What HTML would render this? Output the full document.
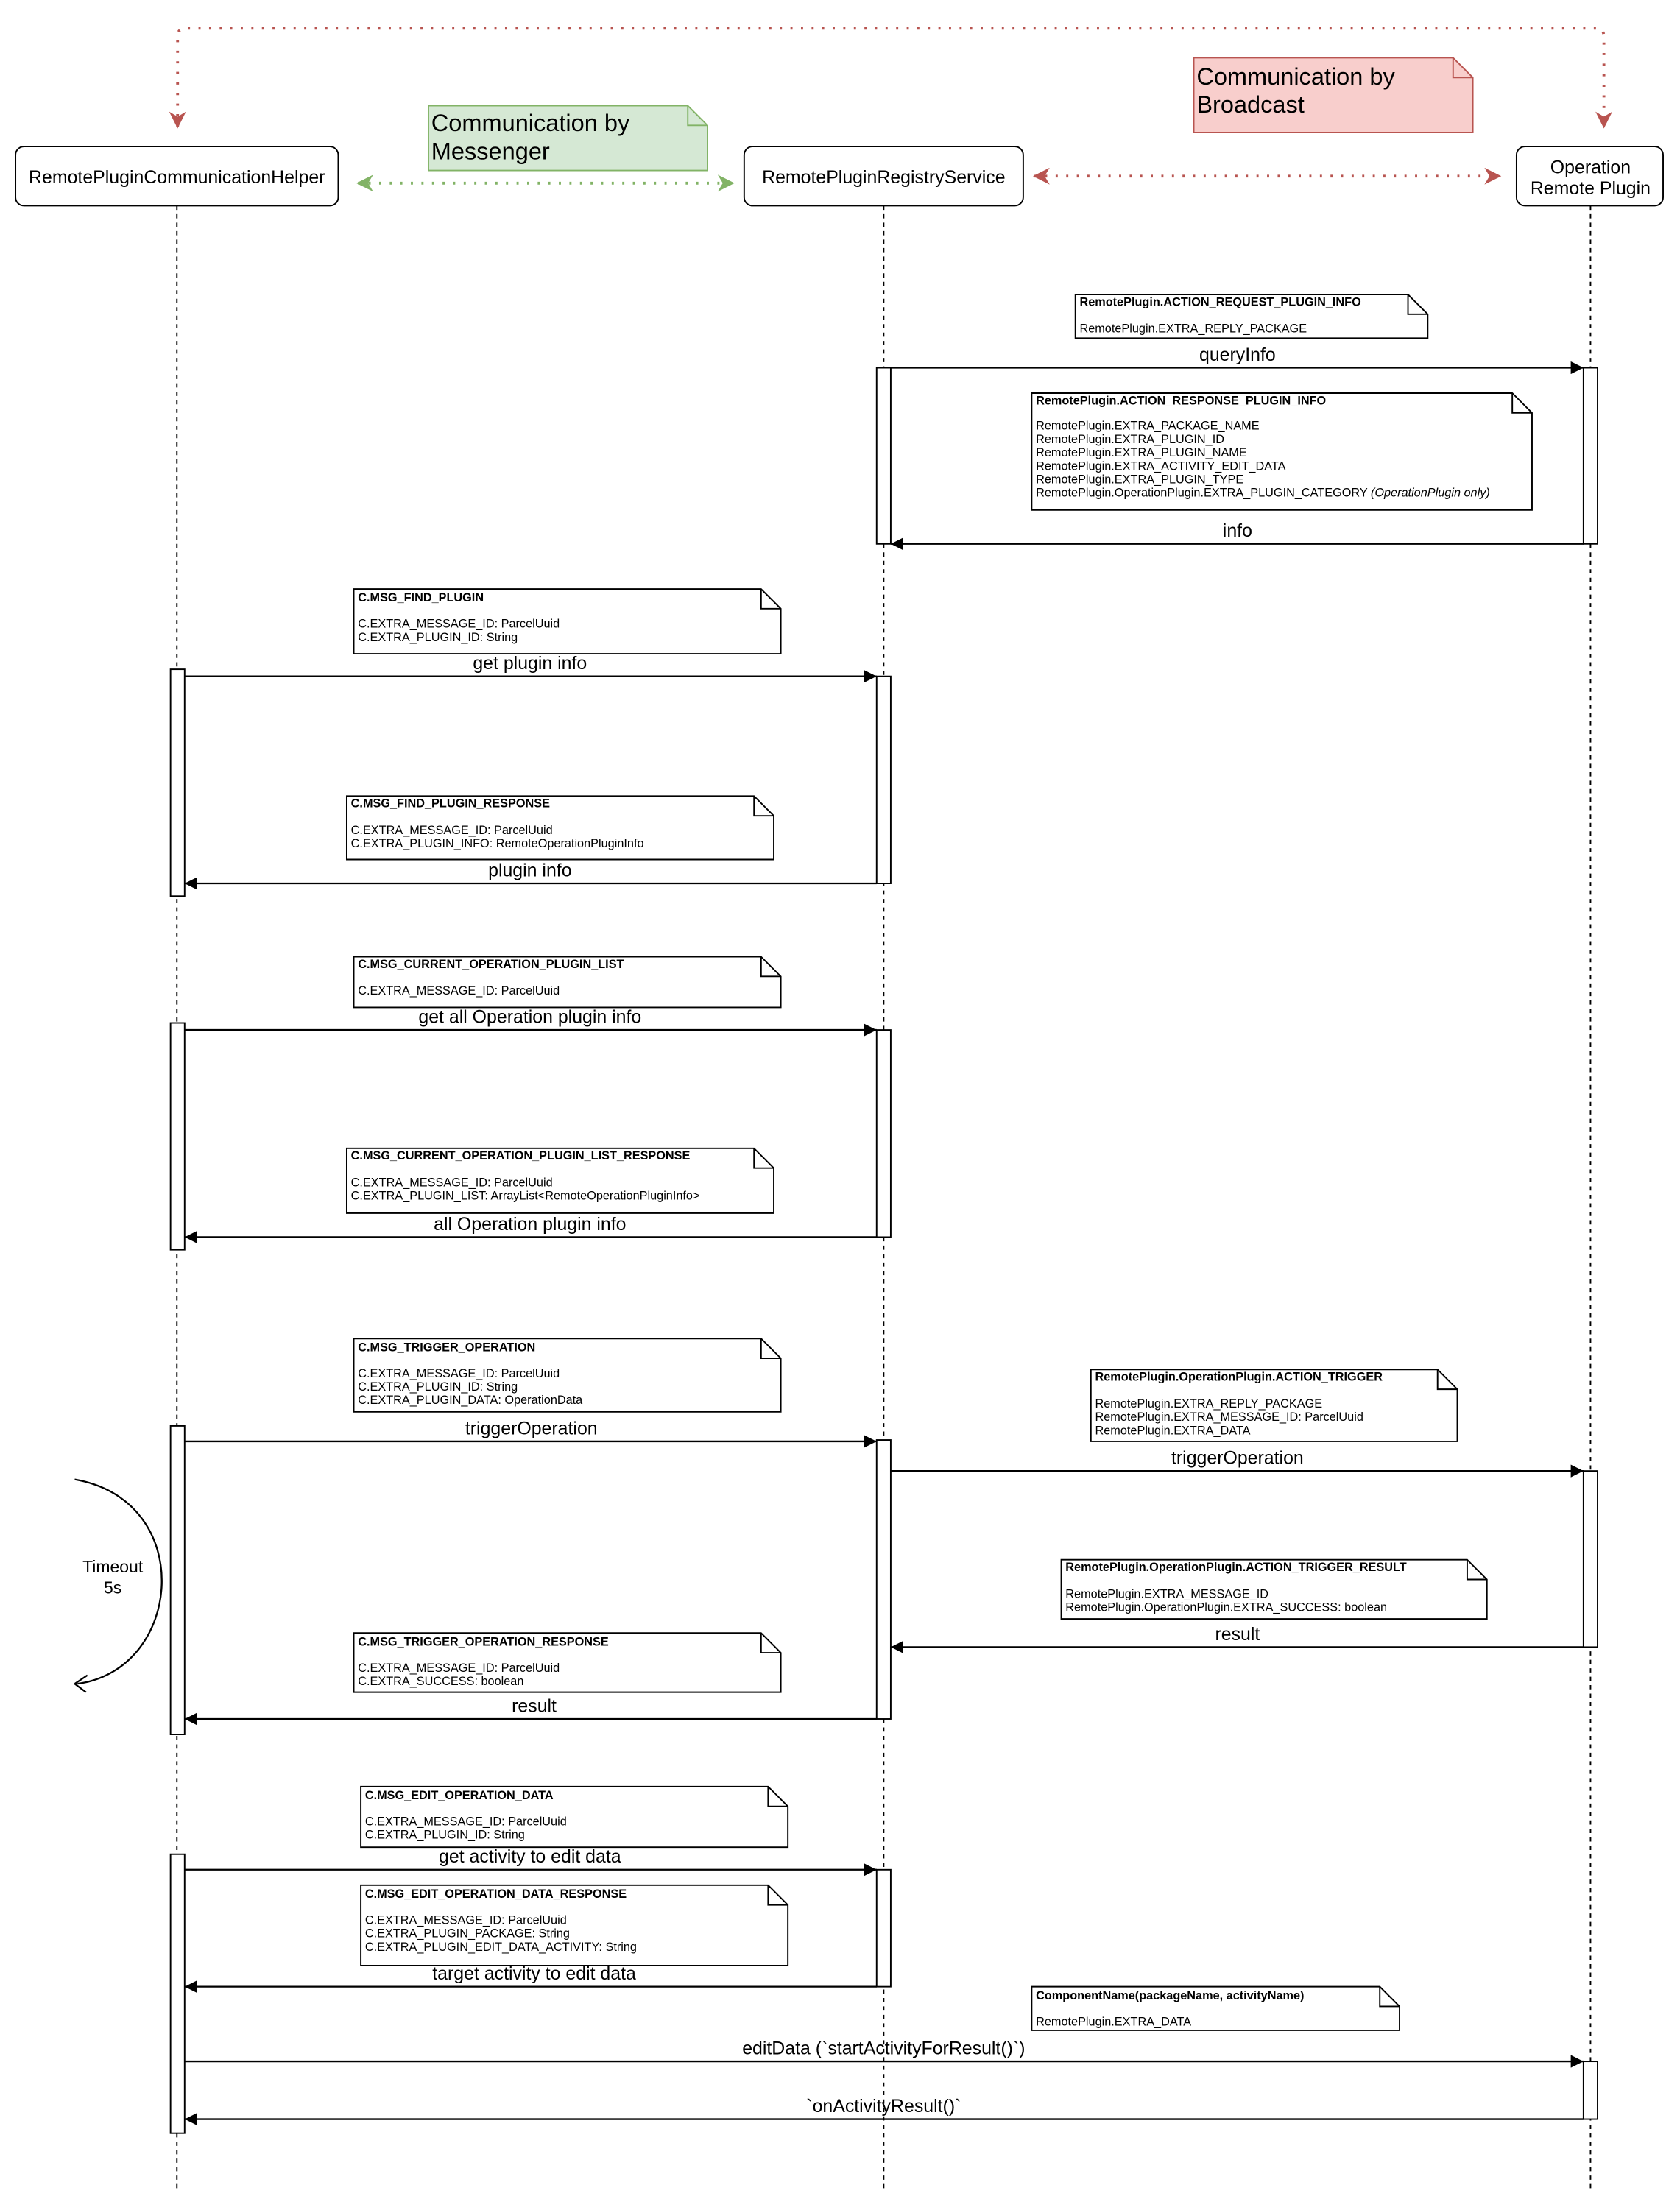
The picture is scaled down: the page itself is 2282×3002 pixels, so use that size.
<!DOCTYPE html>
<html><head><meta charset="utf-8"><style>html,body{margin:0;padding:0;background:#fff}svg{display:block}</style></head><body>
<svg xmlns="http://www.w3.org/2000/svg" width="2282" height="3002" viewBox="0 0 1192 1568.5" preserveAspectRatio="none" font-family="'Liberation Sans', 'DejaVu Sans', sans-serif">
<defs>
<marker id="ab" viewBox="0 0 10 10" refX="10" refY="5" markerWidth="9" markerHeight="9" markerUnits="userSpaceOnUse" orient="auto"><path d="M0,0 L10,5 L0,10 z" fill="#000"/></marker>
<marker id="ag" viewBox="0 0 10 10" refX="9" refY="5" markerWidth="12" markerHeight="12" markerUnits="userSpaceOnUse" orient="auto-start-reverse"><path d="M0,0 L10,5 L0,10 L3,5 z" fill="#82b366"/></marker>
<marker id="ar" viewBox="0 0 10 10" refX="9" refY="5" markerWidth="12" markerHeight="12" markerUnits="userSpaceOnUse" orient="auto-start-reverse"><path d="M0,0 L10,5 L0,10 L3,5 z" fill="#b85450"/></marker>
</defs>
<rect width="1192" height="1568.5" fill="#fff"/>

<path d="M126,90 L126,26 Q126,20 132,20 L1132,20 Q1138,20 1138,26 L1138,90" fill="none" stroke="#b85450" stroke-width="2" stroke-dasharray="1.5 6" marker-start="url(#ar)" marker-end="url(#ar)"/>

<g stroke="#000" stroke-width="1" stroke-dasharray="3 3">
<line x1="125.5" y1="146" x2="125.5" y2="1556"/>
<line x1="627" y1="146" x2="627" y2="1556"/>
<line x1="1128.5" y1="146" x2="1128.5" y2="1556"/>
</g>

<g fill="#fff" stroke="#000" stroke-width="1">
<rect x="11" y="104" width="229" height="42" rx="6"/>
<rect x="528" y="104" width="198" height="42" rx="6"/>
<rect x="1076" y="104" width="104" height="42" rx="6"/>
</g>
<g font-size="13" text-anchor="middle" fill="#000">
<text x="125.5" y="130">RemotePluginCommunicationHelper</text>
<text x="627" y="130">RemotePluginRegistryService</text>
<text x="1128.5" y="123">Operation</text>
<text x="1128.5" y="138">Remote Plugin</text>
</g>

<path d="M304,75 L488,75 L502,89 L502,121 L304,121 Z" fill="#d5e8d4" stroke="#82b366"/>
<path d="M488,75 L488,89 L502,89" fill="none" stroke="#82b366"/>
<text x="306" y="93" font-size="17">Communication by</text>
<text x="306" y="113" font-size="17">Messenger</text>
<line x1="254" y1="130" x2="520" y2="130" stroke="#82b366" stroke-width="2" stroke-dasharray="1.5 6" marker-start="url(#ag)" marker-end="url(#ag)"/>

<path d="M847,41 L1031,41 L1045,55 L1045,94 L847,94 Z" fill="#f8cecc" stroke="#b85450"/>
<path d="M1031,41 L1031,55 L1045,55" fill="none" stroke="#b85450"/>
<text x="849" y="60" font-size="17">Communication by</text>
<text x="849" y="80" font-size="17">Broadcast</text>
<line x1="734" y1="125" x2="1064" y2="125" stroke="#b85450" stroke-width="2" stroke-dasharray="1.5 6" marker-start="url(#ar)" marker-end="url(#ar)"/>

<g fill="#fff" stroke="#000" stroke-width="1">
<rect x="622" y="261" width="10" height="125"/>
<rect x="1123.5" y="261" width="10" height="125"/>
<rect x="121" y="475" width="10" height="161"/>
<rect x="622" y="480" width="10" height="147"/>
<rect x="121" y="726" width="10" height="161"/>
<rect x="622" y="731" width="10" height="147"/>
<rect x="121" y="1012" width="10" height="219"/>
<rect x="622" y="1022" width="10" height="198"/>
<rect x="1123.5" y="1044" width="10" height="125"/>
<rect x="121" y="1316" width="10" height="198"/>
<rect x="622" y="1327" width="10" height="83"/>
<rect x="1123.5" y="1463" width="10" height="41"/>
</g>

<g fill="#fff" stroke="#000" stroke-width="1">
<path d="M763,209 L999,209 L1013,223 L1013,240 L763,240 Z"/><path d="M999,209 L999,223 L1013,223" fill="none"/>
<path d="M732,279 L1073,279 L1087,293 L1087,362 L732,362 Z"/><path d="M1073,279 L1073,293 L1087,293" fill="none"/>
<path d="M251,418 L540,418 L554,432 L554,464 L251,464 Z"/><path d="M540,418 L540,432 L554,432" fill="none"/>
<path d="M246,565 L535,565 L549,579 L549,610 L246,610 Z"/><path d="M535,565 L535,579 L549,579" fill="none"/>
<path d="M251,679 L540,679 L554,693 L554,715 L251,715 Z"/><path d="M540,679 L540,693 L554,693" fill="none"/>
<path d="M246,815 L535,815 L549,829 L549,861 L246,861 Z"/><path d="M535,815 L535,829 L549,829" fill="none"/>
<path d="M251,950 L540,950 L554,964 L554,1002 L251,1002 Z"/><path d="M540,950 L540,964 L554,964" fill="none"/>
<path d="M774,972 L1020,972 L1034,986 L1034,1023 L774,1023 Z"/><path d="M1020,972 L1020,986 L1034,986" fill="none"/>
<path d="M753,1107 L1041,1107 L1055,1121 L1055,1149 L753,1149 Z"/><path d="M1041,1107 L1041,1121 L1055,1121" fill="none"/>
<path d="M251,1159 L540,1159 L554,1173 L554,1201 L251,1201 Z"/><path d="M540,1159 L540,1173 L554,1173" fill="none"/>
<path d="M256,1268 L545,1268 L559,1282 L559,1311 L256,1311 Z"/><path d="M545,1268 L545,1282 L559,1282" fill="none"/>
<path d="M256,1338 L545,1338 L559,1352 L559,1395 L256,1395 Z"/><path d="M545,1338 L545,1352 L559,1352" fill="none"/>
<path d="M732,1410 L979,1410 L993,1424 L993,1441 L732,1441 Z"/><path d="M979,1410 L979,1424 L993,1424" fill="none"/>
</g>
<g font-size="8.5" fill="#000">
<text x="766" y="217" font-weight="bold">RemotePlugin.ACTION_REQUEST_PLUGIN_INFO</text>
<text x="766" y="236">RemotePlugin.EXTRA_REPLY_PACKAGE</text>
<text x="735" y="287" font-weight="bold">RemotePlugin.ACTION_RESPONSE_PLUGIN_INFO</text>
<text x="735" y="305">RemotePlugin.EXTRA_PACKAGE_NAME</text>
<text x="735" y="314.5">RemotePlugin.EXTRA_PLUGIN_ID</text>
<text x="735" y="324">RemotePlugin.EXTRA_PLUGIN_NAME</text>
<text x="735" y="333.5">RemotePlugin.EXTRA_ACTIVITY_EDIT_DATA</text>
<text x="735" y="343">RemotePlugin.EXTRA_PLUGIN_TYPE</text>
<text x="735" y="352.5">RemotePlugin.OperationPlugin.EXTRA_PLUGIN_CATEGORY <tspan font-style="italic">(OperationPlugin only)</tspan></text>

<text x="254" y="427" font-weight="bold">C.MSG_FIND_PLUGIN</text>
<text x="254" y="445.5">C.EXTRA_MESSAGE_ID: ParcelUuid</text>
<text x="254" y="455">C.EXTRA_PLUGIN_ID: String</text>

<text x="249" y="573" font-weight="bold">C.MSG_FIND_PLUGIN_RESPONSE</text>
<text x="249" y="592">C.EXTRA_MESSAGE_ID: ParcelUuid</text>
<text x="249" y="601.5">C.EXTRA_PLUGIN_INFO: RemoteOperationPluginInfo</text>

<text x="254" y="687" font-weight="bold">C.MSG_CURRENT_OPERATION_PLUGIN_LIST</text>
<text x="254" y="706">C.EXTRA_MESSAGE_ID: ParcelUuid</text>

<text x="249" y="823" font-weight="bold">C.MSG_CURRENT_OPERATION_PLUGIN_LIST_RESPONSE</text>
<text x="249" y="842">C.EXTRA_MESSAGE_ID: ParcelUuid</text>
<text x="249" y="851.5">C.EXTRA_PLUGIN_LIST: ArrayList&lt;RemoteOperationPluginInfo&gt;</text>

<text x="254" y="959" font-weight="bold">C.MSG_TRIGGER_OPERATION</text>
<text x="254" y="977.5">C.EXTRA_MESSAGE_ID: ParcelUuid</text>
<text x="254" y="987">C.EXTRA_PLUGIN_ID: String</text>
<text x="254" y="996.5">C.EXTRA_PLUGIN_DATA: OperationData</text>

<text x="777" y="980" font-weight="bold">RemotePlugin.OperationPlugin.ACTION_TRIGGER</text>
<text x="777" y="999">RemotePlugin.EXTRA_REPLY_PACKAGE</text>
<text x="777" y="1008.5">RemotePlugin.EXTRA_MESSAGE_ID: ParcelUuid</text>
<text x="777" y="1018">RemotePlugin.EXTRA_DATA</text>

<text x="756" y="1115" font-weight="bold">RemotePlugin.OperationPlugin.ACTION_TRIGGER_RESULT</text>
<text x="756" y="1134">RemotePlugin.EXTRA_MESSAGE_ID</text>
<text x="756" y="1143.5">RemotePlugin.OperationPlugin.EXTRA_SUCCESS: boolean</text>

<text x="254" y="1168" font-weight="bold">C.MSG_TRIGGER_OPERATION_RESPONSE</text>
<text x="254" y="1186.5">C.EXTRA_MESSAGE_ID: ParcelUuid</text>
<text x="254" y="1196">C.EXTRA_SUCCESS: boolean</text>

<text x="259" y="1277" font-weight="bold">C.MSG_EDIT_OPERATION_DATA</text>
<text x="259" y="1295.5">C.EXTRA_MESSAGE_ID: ParcelUuid</text>
<text x="259" y="1305">C.EXTRA_PLUGIN_ID: String</text>

<text x="259" y="1347" font-weight="bold">C.MSG_EDIT_OPERATION_DATA_RESPONSE</text>
<text x="259" y="1365.5">C.EXTRA_MESSAGE_ID: ParcelUuid</text>
<text x="259" y="1375">C.EXTRA_PLUGIN_PACKAGE: String</text>
<text x="259" y="1384.5">C.EXTRA_PLUGIN_EDIT_DATA_ACTIVITY: String</text>

<text x="735" y="1419" font-weight="bold">ComponentName(packageName, activityName)</text>
<text x="735" y="1437.5">RemotePlugin.EXTRA_DATA</text>
</g>

<g stroke="#000" stroke-width="1.2" fill="none" marker-end="url(#ab)">
<line x1="632" y1="261" x2="1123.5" y2="261"/>
<line x1="1123.5" y1="386" x2="632" y2="386"/>
<line x1="131" y1="480" x2="622" y2="480"/>
<line x1="622" y1="627" x2="131" y2="627"/>
<line x1="131" y1="731" x2="622" y2="731"/>
<line x1="622" y1="878" x2="131" y2="878"/>
<line x1="131" y1="1023" x2="622" y2="1023"/>
<line x1="632" y1="1044" x2="1123.5" y2="1044"/>
<line x1="1123.5" y1="1169" x2="632" y2="1169"/>
<line x1="622" y1="1220" x2="131" y2="1220"/>
<line x1="131" y1="1327" x2="622" y2="1327"/>
<line x1="622" y1="1410" x2="131" y2="1410"/>
<line x1="131" y1="1463" x2="1123.5" y2="1463"/>
<line x1="1123.5" y1="1504" x2="131" y2="1504"/>
</g>
<g font-size="13" text-anchor="middle" fill="#000">
<text x="878" y="256">queryInfo</text>
<text x="878" y="381">info</text>
<text x="376" y="475">get plugin info</text>
<text x="376" y="622">plugin info</text>
<text x="376" y="726">get all Operation plugin info</text>
<text x="376" y="873">all Operation plugin info</text>
<text x="377" y="1018">triggerOperation</text>
<text x="878" y="1039">triggerOperation</text>
<text x="878" y="1164">result</text>
<text x="379" y="1215">result</text>
<text x="376" y="1322">get activity to edit data</text>
<text x="379" y="1405">target activity to edit data</text>
<text x="627" y="1458">editData (`startActivityForResult()`)</text>
<text x="627" y="1499">`onActivityResult()`</text>
</g>

<path d="M53,1050 C140,1065 130,1185 55,1195" fill="none" stroke="#000" stroke-width="1.2"/>
<path d="M53,1195 L62,1189 M53,1195 L61,1201" stroke="#000" stroke-width="1.2" fill="none"/>
<g font-size="12" text-anchor="middle" fill="#000">
<text x="80" y="1116">Timeout</text>
<text x="80" y="1131">5s</text>
</g>
</svg>
</body></html>
